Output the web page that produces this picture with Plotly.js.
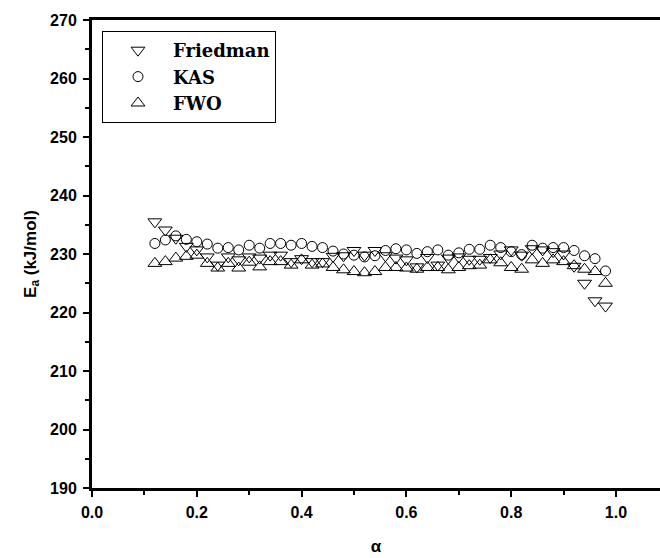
<!DOCTYPE html>
<html><head><meta charset="utf-8">
<script src="https://cdn.plot.ly/plotly-3.0.1.min.js"></script>
<style>html,body{margin:0;padding:0;background:#fff}#chart{width:660px;height:558px}</style>
</head><body><div id="chart"></div>
<script>
const alpha = [0.12,0.14,0.16,0.18,0.20,0.22,0.24,0.26,0.28,0.30,0.32,0.34,0.36,0.38,0.40,0.42,0.44,0.46,0.48,0.50,0.52,0.54,0.56,0.58,0.60,0.62,0.64,0.66,0.68,0.70,0.72,0.74,0.76,0.78,0.80,0.82,0.84,0.86,0.88,0.90,0.92,0.94,0.96,0.98];
const friedman = [235.5,234.1,232.7,231.3,230.7,229.5,228.1,229.5,229.0,229.5,229.3,229.8,229.8,228.7,229.2,228.7,228.7,229.6,229.7,230.6,229.8,230.6,229.7,229.3,229.0,227.8,229.4,228.1,229.3,229.5,229.1,229.1,229.4,230.0,230.7,229.8,230.9,230.7,230.4,230.0,227.9,225.0,222.0,221.1];
const kas = [231.8,232.4,233.1,232.5,232.1,231.7,231.0,231.1,230.7,231.5,231.0,231.8,231.8,231.5,231.8,231.3,231.1,230.5,230.0,229.8,229.5,229.7,230.6,230.9,230.7,230.1,230.4,230.7,229.8,230.2,230.8,230.8,231.5,231.1,230.4,229.9,231.5,231.0,231.1,231.1,230.6,229.7,229.2,227.1];
const fwo = [228.4,228.7,229.3,229.6,229.8,228.4,227.6,228.4,227.6,228.6,227.8,228.7,228.7,228.1,229.0,228.1,228.3,227.7,227.3,227.0,226.8,227.0,227.7,227.7,227.6,227.4,227.7,227.7,227.3,227.7,228.0,228.1,229.0,228.5,227.7,227.4,229.0,228.4,229.0,228.7,228.0,227.4,227.0,225.0];
const seriesNames = ['Friedman','KAS','FWO'];
const xTickVals = [0,0.2,0.4,0.6,0.8,1.0];
const xTickText = ['0.0','0.2','0.4','0.6','0.8','1.0'];
const yTickVals = [190,200,210,220,230,240,250,260,270];

const mk = (sym, size) => ({symbol: sym, size: size, color: '#000', line: {color: '#000', width: 1}});
const traces = [
  {x: alpha, y: friedman, name: seriesNames[0], mode: 'markers', type: 'scatter', marker: mk('triangle-down-open', 12)},
  {x: alpha, y: kas, name: seriesNames[1], mode: 'markers', type: 'scatter', marker: mk('circle-open', 10)},
  {x: alpha, y: fwo, name: seriesNames[2], mode: 'markers', type: 'scatter', marker: mk('triangle-up-open', 12)}
];
const tickFont = {family: 'Liberation Sans, Arial, sans-serif', size: 16, color: '#000', weight: 'bold'};
const layout = {
  width: 660, height: 558,
  margin: {l: 92, r: 0, t: 20, b: 70},
  paper_bgcolor: '#fff', plot_bgcolor: '#fff',
  showlegend: true,
  legend: {x: 0.0176, y: 0.9765, xanchor: 'left', yanchor: 'top', bgcolor: '#fff', bordercolor: '#000', borderwidth: 1,
    font: {family: 'DejaVu Serif, serif', size: 18, color: '#000', weight: 'bold'}, itemwidth: 60},
  xaxis: {range: [0, 1.084], tickvals: xTickVals, ticktext: xTickText, ticks: 'outside', ticklen: 6, tickwidth: 2, tickcolor: '#000',
    minor: {dtick: 0.1, ticks: 'outside', ticklen: 4, tickwidth: 2, tickcolor: '#000'},
    showline: true, linewidth: 3, linecolor: '#000', mirror: true, showgrid: false, zeroline: false,
    tickfont: tickFont, ticklabelstandoff: 2,
    title: {text: 'α', font: {family: 'Liberation Sans, Arial, sans-serif', size: 17, color: '#000', weight: 'bold'}, standoff: 20}},
  yaxis: {range: [190, 270], tickvals: yTickVals, ticks: 'outside', ticklen: 6, tickwidth: 2, tickcolor: '#000',
    minor: {dtick: 5, ticks: 'outside', ticklen: 4, tickwidth: 2, tickcolor: '#000'},
    showline: true, linewidth: 3, linecolor: '#000', mirror: false, showgrid: false, zeroline: false,
    tickfont: tickFont, ticklabelstandoff: 3,
    title: {text: 'E<sub>a</sub> (kJ/mol)', font: {family: 'Liberation Sans, Arial, sans-serif', size: 17, color: '#000', weight: 'bold'}, standoff: 10}}
};
Plotly.newPlot('chart', traces, layout, {displayModeBar: false, staticPlot: true});
</script></body></html>
